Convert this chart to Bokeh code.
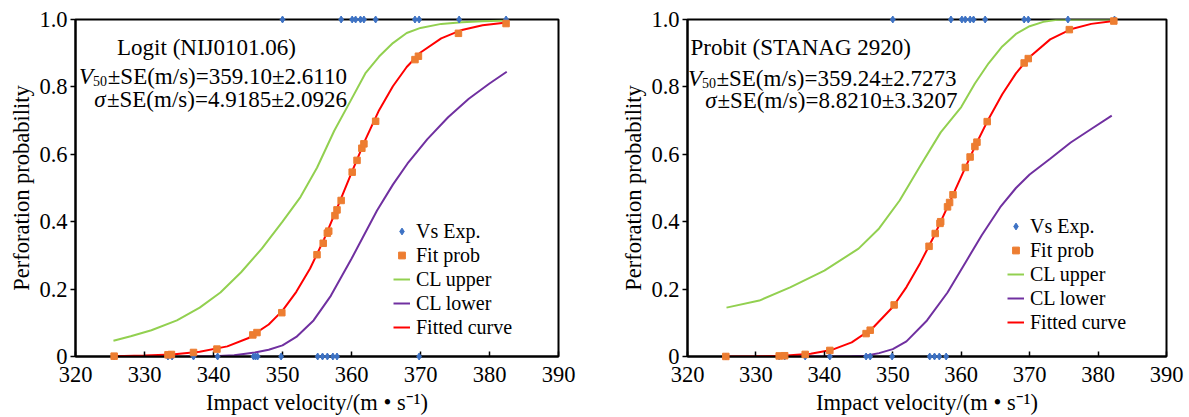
from bokeh.plotting import figure
from bokeh.layouts import row
from bokeh.models import FixedTicker, CustomJSTickFormatter, Label, Legend, LegendItem
from bokeh.embed import file_html
from bokeh.resources import INLINE

# ---------------- data ----------------
x_ticks = [320, 330, 340, 350, 360, 370, 380, 390]
y_ticks = [0, 0.2, 0.4, 0.6, 0.8, 1.0]

# experimental shots (1 = complete perforation, 0 = partial)
exp_v_left = [350.0, 358.5, 360.1, 360.6, 361.3, 361.8, 363.5, 369.2, 369.8, 375.6, 382.4,
              325.6, 333.4, 334.0, 337.1, 340.6, 345.8, 346.1, 346.4, 349.8, 355.1, 355.8,
              356.5, 357.3, 357.9, 369.8]
exp_r_left = [1, 1, 1, 1, 1, 1, 1, 1, 1, 1, 1,
              0, 0, 0, 0, 0, 0, 0, 0, 0, 0, 0,
              0, 0, 0, 0]
exp_v_right = [350.0, 358.5, 360.1, 360.6, 361.3, 361.8, 363.5, 369.2, 369.8, 375.6, 382.4,
               325.6, 333.4, 334.2, 337.2, 340.8, 346.1, 346.7, 349.9, 355.4, 356.1,
               356.8, 357.8]
exp_r_right = [1, 1, 1, 1, 1, 1, 1, 1, 1, 1, 1,
               0, 0, 0, 0, 0, 0, 0, 0, 0, 0,
               0, 0]

# Logit (NIJ0101.06)
logit_fit_v = [325.6, 333.4, 333.9, 337.1, 340.5, 345.7, 346.3, 349.9, 355.0, 355.9, 356.5, 356.7,
               357.6, 357.9, 358.5, 360.1, 360.8, 361.5, 361.8, 363.5, 369.2, 369.7, 375.5, 382.4]
logit_fit_p = [0.001, 0.005, 0.006, 0.012, 0.022, 0.064, 0.071, 0.130, 0.302, 0.336, 0.366, 0.372,
               0.418, 0.435, 0.463, 0.547, 0.582, 0.618, 0.631, 0.698, 0.881, 0.891, 0.959, 0.988]
logit_curve_v = [325.5, 330, 334, 338, 342, 345, 348, 350, 352, 354, 356, 358, 360, 362, 364,
                 366, 368, 370, 373, 376, 379, 382.5]
logit_curve_p = [0.001, 0.003, 0.006, 0.014, 0.030, 0.054, 0.095, 0.136, 0.192, 0.261, 0.347,
                 0.445, 0.545, 0.643, 0.731, 0.802, 0.859, 0.902, 0.944, 0.969, 0.983, 0.991]
logit_upper_v = [325.5, 328, 331, 334.7, 338, 341, 344, 347, 350, 352.6, 355, 357.5, 359.9, 362,
                 364, 366, 368, 370, 373, 376, 379, 382.5]
logit_upper_p = [0.047, 0.060, 0.078, 0.107, 0.145, 0.190, 0.250, 0.320, 0.400, 0.473, 0.560,
                 0.670, 0.760, 0.840, 0.890, 0.930, 0.960, 0.975, 0.987, 0.992, 0.995, 0.997]
logit_lower_v = [336, 340, 343, 346, 348, 350, 352, 354.5, 357, 360, 363.7, 366, 368.1, 371,
                 374, 377, 380, 382.5]
logit_lower_p = [0.0, 0.001, 0.004, 0.012, 0.020, 0.033, 0.058, 0.107, 0.180, 0.290, 0.433,
                 0.510, 0.572, 0.645, 0.710, 0.765, 0.810, 0.845]

# Probit (STANAG 2920)
probit_fit_v = [325.6, 333.4, 334.2, 337.2, 340.8, 346.1, 346.7, 350.2, 355.3, 356.2, 356.9, 357.0,
                358.0, 358.3, 358.8, 360.6, 361.3, 362.0, 362.3, 363.8, 369.2, 369.8, 375.8, 382.3]
probit_fit_p = [0.0001, 0.0017, 0.0023, 0.0062, 0.018, 0.068, 0.078, 0.153, 0.327, 0.365, 0.395,
                0.400, 0.444, 0.457, 0.480, 0.561, 0.592, 0.623, 0.636, 0.697, 0.871, 0.884,
                0.970, 0.9955]
probit_curve_v = [325.5, 330, 334, 338, 341, 344, 347, 350, 352, 354, 356, 358, 360, 362, 364,
                  366, 368, 370, 373, 376, 379, 382]
probit_curve_p = [0.0001, 0.0005, 0.002, 0.008, 0.019, 0.042, 0.083, 0.147, 0.206, 0.277, 0.356,
                  0.444, 0.534, 0.623, 0.705, 0.778, 0.840, 0.889, 0.941, 0.971, 0.987, 0.995]
probit_upper_v = [325.7, 330.5, 335, 340, 345, 348, 351, 354, 357, 360, 362, 364, 366, 368, 370,
                  372, 374, 378, 382]
probit_upper_p = [0.145, 0.166, 0.205, 0.255, 0.320, 0.380, 0.463, 0.565, 0.665, 0.740, 0.810,
                  0.870, 0.920, 0.957, 0.980, 0.993, 0.999, 1.0, 1.0]
probit_lower_v = [334, 338, 342, 344, 346, 348, 350, 352, 355, 358, 360.8, 363, 365.7, 368, 370,
                  373, 376, 379, 382]
probit_lower_p = [0.0, 0.0, 0.0, 0.0005, 0.002, 0.010, 0.022, 0.045, 0.107, 0.190, 0.285, 0.360,
                  0.443, 0.500, 0.540, 0.587, 0.635, 0.675, 0.715]

legend_labels = ["Vs Exp.", "Fit prob", "CL upper", "CL lower", "Fitted curve"]

# ---------------- styling ----------------
FONT = "Liberation Serif"
C_EXP = "#3D72C4"
C_FIT = "#ED7D31"
C_UP = "#92D050"
C_LOW = "#7030A0"
C_CURVE = "#FF0000"
FIG_H = 417
FRAME_TOP_PAGE = 19
FRAME_BOT_PAGE = 356
LEGEND_FONT = "20px"
LEGEND_ROW_H = 23.3


def build(width, bl, br, page_left, exp_v, exp_r, fit_v, fit_p, cv, cp, uv, up, lv, lp,
          texts, legend_x, legend_rows):
    p = figure(width=width, height=FIG_H, x_range=(320, 390), y_range=(0, 1),
               output_backend="svg", toolbar_location=None,
               min_border_left=bl, min_border_right=br,
               min_border_top=FRAME_TOP_PAGE, min_border_bottom=FIG_H - FRAME_BOT_PAGE)
    p.xgrid.visible = False
    p.ygrid.visible = False
    p.outline_line_color = "black"
    p.outline_line_width = 2
    p.outline_line_alpha = 1
    p.background_fill_color = "white"

    for ax in (p.xaxis[0], p.yaxis[0]):
        ax.axis_line_width = 2
        ax.axis_line_color = "black"
        ax.major_tick_line_width = 1.5
        ax.major_tick_line_color = "black"
        ax.minor_tick_in = 0
        ax.minor_tick_out = 0
        ax.major_label_text_font = FONT
        ax.major_label_text_font_size = "22.5px"
        ax.major_label_text_color = "black"
        ax.axis_label_text_font = FONT
        ax.axis_label_text_font_size = "22.5px"
        ax.axis_label_text_font_style = "normal"
        ax.axis_label_text_color = "black"

    p.xaxis.ticker = FixedTicker(ticks=x_ticks)
    p.xaxis.major_tick_in = 5
    p.xaxis.major_tick_out = 0
    p.xaxis.major_label_standoff = 10
    p.xaxis.axis_label_standoff = 5
    p.xaxis.axis_label = "Impact velocity/(m \u2022 s\u207b\u00b9)"

    p.yaxis.ticker = FixedTicker(ticks=y_ticks)
    p.yaxis.formatter = CustomJSTickFormatter(code="return tick == 0 ? '0' : tick.toFixed(1);")
    p.yaxis.major_tick_in = 0
    p.yaxis.major_tick_out = 5
    p.yaxis.major_label_standoff = 3
    p.yaxis.axis_label_standoff = 2
    p.yaxis.axis_label = "Perforation probability"

    r_up = p.line(uv, up, line_color=C_UP, line_width=2)
    r_low = p.line(lv, lp, line_color=C_LOW, line_width=2)
    r_curve = p.line(cv, cp, line_color=C_CURVE, line_width=2)
    r_exp = p.scatter(exp_v, exp_r, marker="diamond", size=7, color=C_EXP, level="overlay")
    r_fit = p.scatter(fit_v, fit_p, marker="square", size=6.5, color=C_FIT, level="overlay")

    renderers = [r_exp, r_fit, r_up, r_low, r_curve]
    for lab, rend, row_center in zip(legend_labels, renderers, legend_rows):
        bottom = FRAME_BOT_PAGE - (row_center + LEGEND_ROW_H / 2.0)
        lg = Legend(items=[LegendItem(label=lab, renderers=[rend])],
                    location=(legend_x, bottom), label_text_font=FONT,
                    label_text_font_size=LEGEND_FONT, label_text_color="black",
                    glyph_width=17, glyph_height=18, label_height=18,
                    label_standoff=6, spacing=0, padding=0, margin=0,
                    border_line_alpha=0, background_fill_alpha=0)
        p.add_layout(lg)

    frame_w = width - bl - br
    frame_left = page_left + bl

    def dx(px):
        return 320 + (px - frame_left) * 70.0 / frame_w

    def dy(py):
        return (FRAME_BOT_PAGE - py) / float(FRAME_BOT_PAGE - FRAME_TOP_PAGE)

    for (txt, px, py, align, size, style) in texts:
        p.add_layout(Label(x=dx(px), y=dy(py), text=txt, text_align=align,
                           text_baseline="alphabetic", text_font=FONT, text_font_size=size,
                           text_font_style=style, text_color="black"))
    return p


left_texts = [
    ("Logit (NIJ0101.06)", 206, 47, "center", "23px", "normal"),
    ("V", 78.5, 76, "left", "23px", "italic"),
    ("50", 92.5, 80, "left", "14px", "normal"),
    ("\u00b1SE(m/s)=359.10\u00b12.6110", 346.5, 76, "right", "23px", "normal"),
    ("\u03c3", 105, 99, "right", "23px", "italic"),
    ("\u00b1SE(m/s)=4.9185\u00b12.0926", 346.5, 99, "right", "23px", "normal"),
]
right_texts = [
    ("Probit (STANAG 2920)", 690, 47, "left", "23px", "normal"),
    ("V", 687.5, 78, "left", "23px", "italic"),
    ("50", 701.5, 82, "left", "14px", "normal"),
    ("\u00b1SE(m/s)=359.24\u00b12.7273", 956, 78, "right", "23px", "normal"),
    ("\u03c3", 716, 100, "right", "23px", "italic"),
    ("\u00b1SE(m/s)=8.8210\u00b13.3207", 957, 100, "right", "23px", "normal"),
]

p1 = build(600, 75, 42, 0, exp_v_left, exp_r_left, logit_fit_v, logit_fit_p,
           logit_curve_v, logit_curve_p, logit_upper_v, logit_upper_p,
           logit_lower_v, logit_lower_p, left_texts, 318, [231, 255, 279, 303, 327])
p2 = build(589, 87, 23, 600, exp_v_right, exp_r_right, probit_fit_v, probit_fit_p,
           probit_curve_v, probit_curve_p, probit_upper_v, probit_upper_p,
           probit_lower_v, probit_lower_p, right_texts, 320, [226, 250, 274, 298, 322])

layout = row(p1, p2)
open("out.html", "w").write(file_html(layout, INLINE))
